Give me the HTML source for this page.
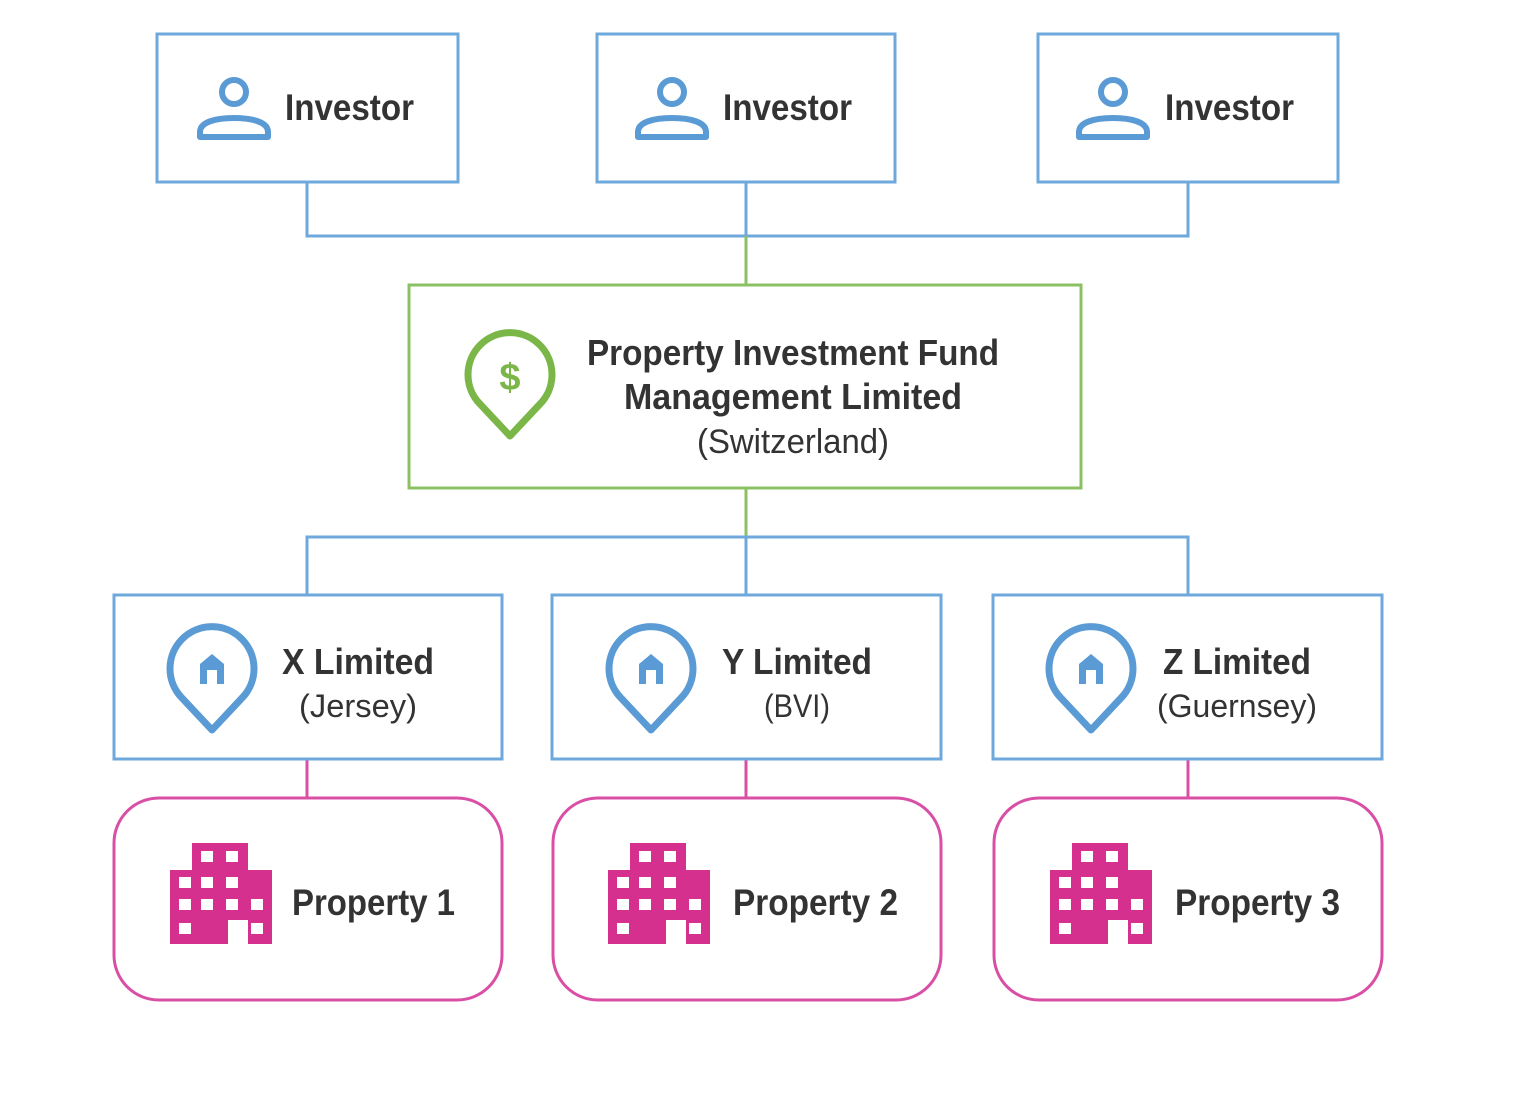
<!DOCTYPE html>
<html><head><meta charset="utf-8"><style>html,body{margin:0;padding:0;background:#fff}svg{display:block}</style></head>
<body>
<svg width="1528" height="1118" viewBox="0 0 1528 1118" xmlns="http://www.w3.org/2000/svg">
<defs>
<g id="person" fill="none" stroke="#5b9bd5" stroke-width="6">
<circle cx="0" cy="0" r="12"/>
<path d="M-34 45 L-34 40 C-34 30 -18 26 0 26 C18 26 34 30 34 40 L34 45 Z" stroke-linejoin="round"/>
</g>
<g id="pinh">
<path d="M0 62 L-30 30 A42 42 0 1 1 30 30 Z" fill="none" stroke="#5b9bd5" stroke-width="7" stroke-linejoin="round"/>
<path d="M-12 16 L-12 -4 L0 -14 L12 -4 L12 16 L5 16 L5 2 L-5 2 L-5 16 Z" fill="#5b9bd5"/>
</g>
<g id="bld">
<path d="M22 0 H78 V27 H102 V101 H78 V77 H58 V101 H0 V27 H22 Z" fill="#d6308f"/>
<g fill="#fff">
<rect x="31" y="8" width="12" height="11"/><rect x="56" y="8" width="12" height="11"/>
<rect x="9" y="34" width="12" height="11"/><rect x="31" y="34" width="12" height="11"/><rect x="56" y="34" width="12" height="11"/>
<rect x="9" y="56" width="12" height="11"/><rect x="31" y="56" width="12" height="11"/><rect x="56" y="56" width="12" height="11"/><rect x="81" y="56" width="12" height="11"/>
<rect x="9" y="80" width="12" height="11"/><rect x="81" y="80" width="12" height="11"/>
</g>
</g>
</defs>
<g fill="none" stroke-width="3">
<path d="M307 182 V236 H1188 V182 M746 182 V236" stroke="#6fa8dc"/>
<path d="M746 236 V285 M746 488 V537" stroke="#8cc163"/>
<path d="M307 595 V537 H1188 V595 M746 537 V595" stroke="#6fa8dc"/>
<path d="M307 759 V798 M746 759 V798 M1188 759 V798" stroke="#d94fa5"/>
<rect x="157" y="34" width="301" height="148" stroke="#6fa8dc"/>
<rect x="597" y="34" width="298" height="148" stroke="#6fa8dc"/>
<rect x="1038" y="34" width="300" height="148" stroke="#6fa8dc"/>
<rect x="409" y="285" width="672" height="203" stroke="#8cc163"/>
<rect x="114" y="595" width="388" height="164" stroke="#6fa8dc"/>
<rect x="552" y="595" width="389" height="164" stroke="#6fa8dc"/>
<rect x="993" y="595" width="389" height="164" stroke="#6fa8dc"/>
<rect x="114" y="798" width="388" height="202" rx="45" stroke="#d94fa5"/>
<rect x="553" y="798" width="388" height="202" rx="45" stroke="#d94fa5"/>
<rect x="994" y="798" width="388" height="202" rx="45" stroke="#d94fa5"/>
</g>
<use href="#person" x="234" y="92"/>
<use href="#person" x="672" y="92"/>
<use href="#person" x="1113" y="92"/>
<g font-family="Liberation Sans, sans-serif" font-weight="bold" font-size="37" fill="#333">
<text x="285" y="120" textLength="129" lengthAdjust="spacingAndGlyphs">Investor</text>
<text x="723" y="120" textLength="129" lengthAdjust="spacingAndGlyphs">Investor</text>
<text x="1165" y="120" textLength="129" lengthAdjust="spacingAndGlyphs">Investor</text>
</g>
<g>
<path d="M510 436 L480 404 A42 42 0 1 1 540 404 Z" fill="none" stroke="#7ab648" stroke-width="7" stroke-linejoin="round"/>
<text x="510" y="390" text-anchor="middle" font-family="Liberation Sans, sans-serif" font-weight="bold" font-size="38" fill="#7ab648">$</text>
</g>
<g font-family="Liberation Sans, sans-serif" fill="#333" text-anchor="middle">
<text x="793" y="365" font-weight="bold" font-size="36" textLength="412" lengthAdjust="spacingAndGlyphs">Property Investment Fund</text>
<text x="793" y="409" font-weight="bold" font-size="36" textLength="338" lengthAdjust="spacingAndGlyphs">Management Limited</text>
<text x="793" y="453" font-size="34" textLength="192" lengthAdjust="spacingAndGlyphs">(Switzerland)</text>
<text x="358" y="674" font-weight="bold" font-size="36" textLength="152" lengthAdjust="spacingAndGlyphs">X Limited</text>
<text x="358" y="717" font-size="32" textLength="118" lengthAdjust="spacingAndGlyphs">(Jersey)</text>
<text x="797" y="674" font-weight="bold" font-size="36" textLength="150" lengthAdjust="spacingAndGlyphs">Y Limited</text>
<text x="797" y="717" font-size="32" textLength="66" lengthAdjust="spacingAndGlyphs">(BVI)</text>
<text x="1237" y="674" font-weight="bold" font-size="36" textLength="148" lengthAdjust="spacingAndGlyphs">Z Limited</text>
<text x="1237" y="717" font-size="32" textLength="160" lengthAdjust="spacingAndGlyphs">(Guernsey)</text>
</g>
<use href="#pinh" x="212" y="668"/>
<use href="#pinh" x="651" y="668"/>
<use href="#pinh" x="1091" y="668"/>
<use href="#bld" x="170" y="843"/>
<use href="#bld" x="608" y="843"/>
<use href="#bld" x="1050" y="843"/>
<g font-family="Liberation Sans, sans-serif" font-weight="bold" font-size="37" fill="#333">
<text x="292" y="915" textLength="163" lengthAdjust="spacingAndGlyphs">Property 1</text>
<text x="733" y="915" textLength="165" lengthAdjust="spacingAndGlyphs">Property 2</text>
<text x="1175" y="915" textLength="165" lengthAdjust="spacingAndGlyphs">Property 3</text>
</g>
</svg>
</body></html>
